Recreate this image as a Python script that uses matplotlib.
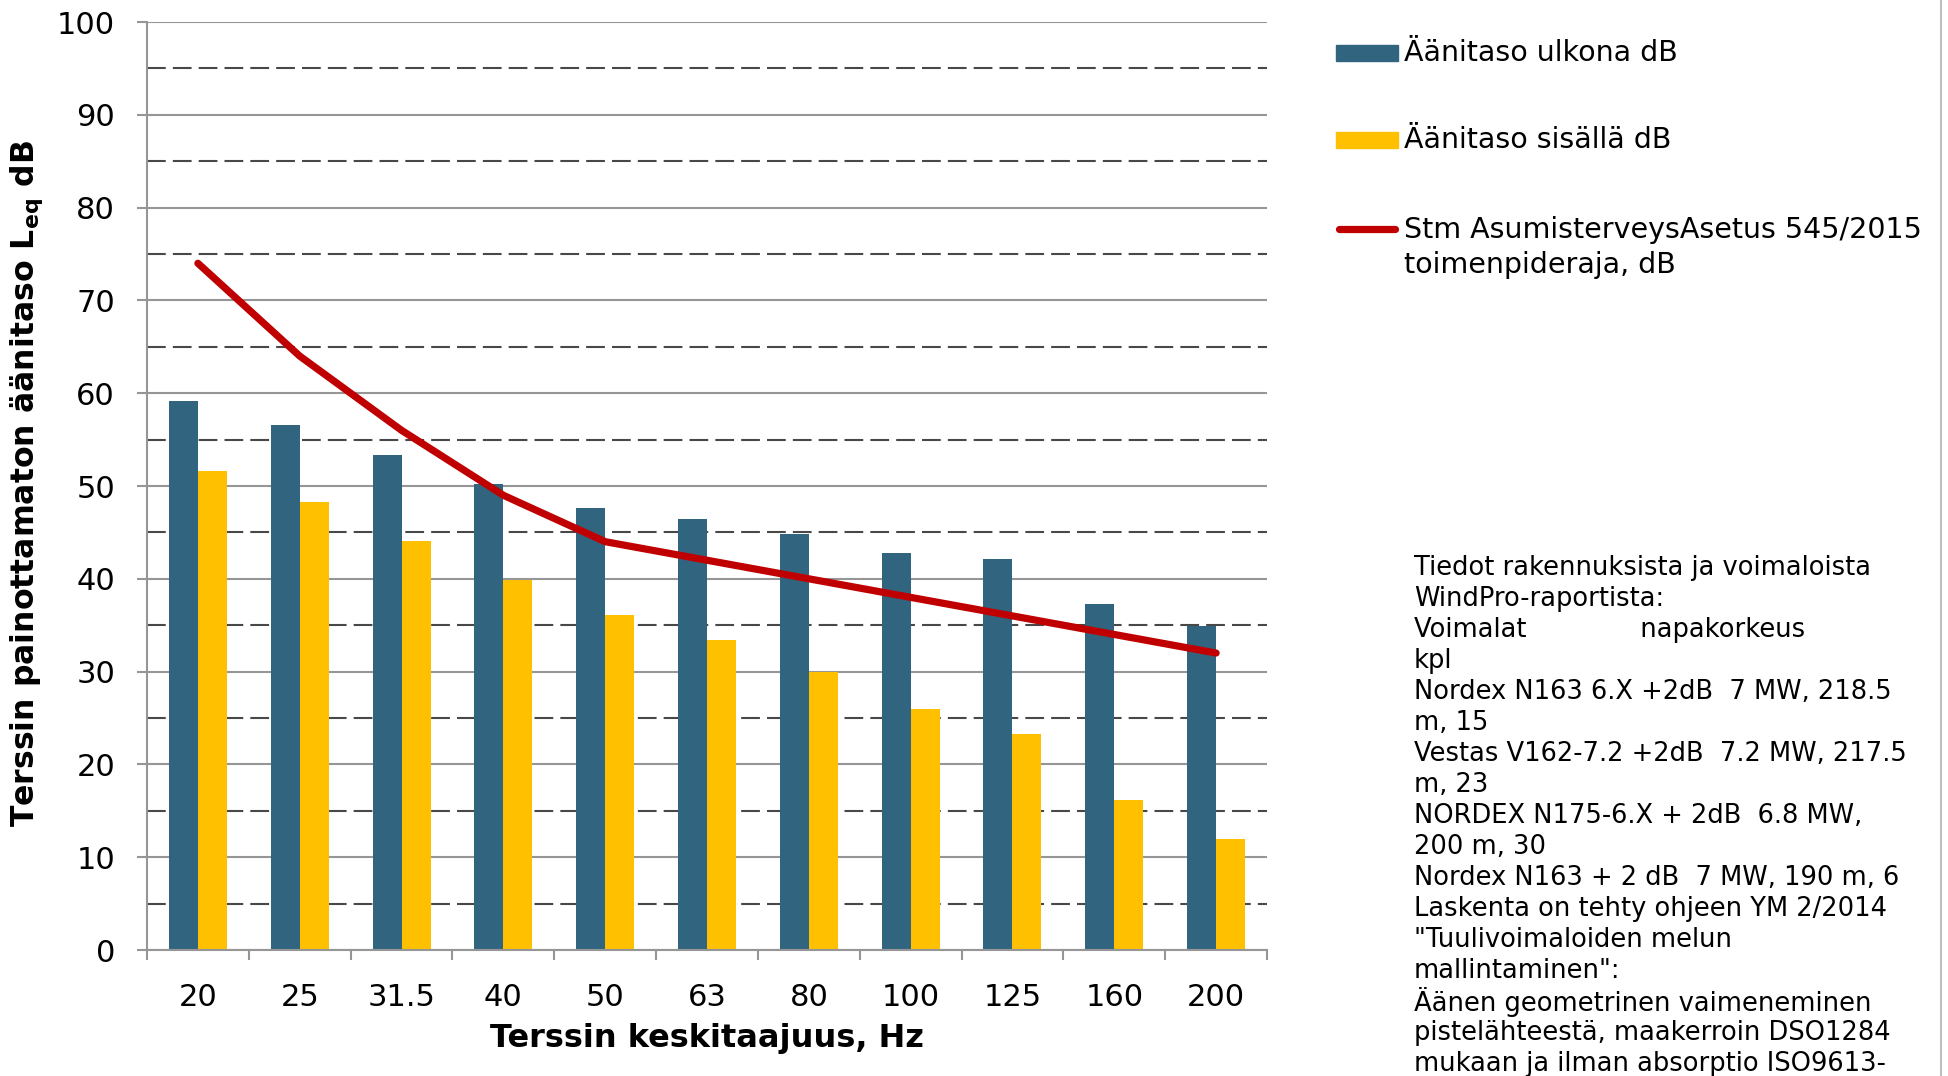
import numpy as np
import matplotlib
matplotlib.use('Agg')
import matplotlib.pyplot as plt
from matplotlib.lines import Line2D
from matplotlib.patches import Rectangle

# data
freqs = ['20', '25', '31.5', '40', '50', '63', '80', '100', '125', '160', '200']
outdoor = [59.2, 56.6, 53.3, 50.2, 47.6, 46.4, 44.8, 42.8, 42.1, 37.3, 34.9]
indoor = [51.6, 48.3, 44.1, 39.9, 36.1, 33.4, 30.0, 26.0, 23.3, 16.2, 12.0]
limit = [74, 64, 56, 49, 44, 42, 40, 38, 36, 34, 32]

labels = ['Äänitaso ulkona dB', 'Äänitaso sisällä dB',
          'Stm AsumisterveysAsetus 545/2015\ntoimenpideraja, dB']
note_lines = [
    'Tiedot rakennuksista ja voimaloista',
    'WindPro-raportista:',
    'Voimalat              napakorkeus',
    'kpl',
    'Nordex N163 6.X +2dB  7 MW, 218.5',
    'm, 15',
    'Vestas V162-7.2 +2dB  7.2 MW, 217.5',
    'm, 23',
    'NORDEX N175-6.X + 2dB  6.8 MW,',
    '200 m, 30',
    'Nordex N163 + 2 dB  7 MW, 190 m, 6',
    'Laskenta on tehty ohjeen YM 2/2014',
    '"Tuulivoimaloiden melun',
    'mallintaminen":',
    'Äänen geometrinen vaimeneminen',
    'pistelähteestä, maakerroin DSO1284',
    'mukaan ja ilman absorptio ISO9613-',
]

BLUE = '#31657f'
YELLOW = '#ffc000'
RED = '#c00000'
GRID = '#969696'

W, H = 1949, 1076
fig = plt.figure(figsize=(W / 100, H / 100), dpi=100)
# axes box in pixels: left 147, right 1267, top 22, bottom 950
ax = fig.add_axes([147 / W, 1 - 950 / H, (1267 - 147) / W, (950 - 22) / H])

x = np.arange(len(freqs))
w = 0.285
ax.bar(x - w / 2, outdoor, w, color=BLUE, zorder=2)
ax.bar(x + w / 2, indoor, w, color=YELLOW, zorder=2)
ax.plot(x, limit, color=RED, lw=5.2, solid_capstyle='round',
        solid_joinstyle='round', zorder=3)

ax.set_xlim(-0.5, len(freqs) - 0.5)
ax.set_ylim(0, 100)
ax.set_axisbelow(True)

ax.set_yticks(range(0, 101, 10))
ax.set_yticks(range(5, 100, 10), minor=True)
ax.yaxis.grid(True, which='major', color=GRID, lw=1.5)
ax.yaxis.grid(True, which='minor', color='#484848', lw=1.5, ls=(0, (9, 3.4)))
ax.tick_params(axis='y', which='minor', length=0)
ax.tick_params(axis='y', which='major', length=7, width=1.5, color=GRID,
               labelsize=22, pad=16)

ax.set_xticks(x)
ax.set_xticklabels(freqs)
ax.set_xticks(np.arange(-0.5, len(freqs), 1), minor=True)
ax.tick_params(axis='x', which='major', length=0, labelsize=22, pad=24)
ax.tick_params(axis='x', which='minor', length=7, width=1.5, color=GRID)

for s in ['top', 'right']:
    ax.spines[s].set_visible(False)
for s in ['left', 'bottom']:
    ax.spines[s].set_color(GRID)
    ax.spines[s].set_linewidth(1.5)

fig.text(27 / W, 1 - 484 / H, r'Terssin painottamaton äänitaso L$_{\mathbf{eq}}$ dB',
         rotation=90, ha='center', va='center', fontsize=22.7, fontweight='bold')
fig.text(707 / W, 1 - 1038 / H, 'Terssin keskitaajuus, Hz',
         ha='center', va='center', fontsize=23, fontweight='bold')

# legend drawn by hand to follow the spacing of the reference
fig.patches.append(Rectangle((1336 / W, 1 - 61 / H), 62 / W, 16 / H,
                             color=BLUE, transform=fig.transFigure))
fig.patches.append(Rectangle((1336 / W, 1 - 148 / H), 62 / W, 16 / H,
                             color=YELLOW, transform=fig.transFigure))
fig.lines.append(Line2D([1339 / W, 1395 / W], [1 - 229 / H] * 2, color=RED, lw=5.2,
                        solid_capstyle='round', transform=fig.transFigure))
fig.text(1404 / W, 1 - 53 / H, labels[0], va='center', fontsize=20.5)
fig.text(1404 / W, 1 - 140 / H, labels[1], va='center', fontsize=20.5)
fig.text(1404 / W, 1 - 216 / H, labels[2], va='top', fontsize=20.5, linespacing=1.33)

# note block, one line every 31 px
for i, line in enumerate(note_lines):
    fig.text(1414 / W, 1 - (568 + 31 * i) / H, line, va='center', fontsize=18.5)

# outer chart border on the right
fig.lines.append(Line2D([1941 / W] * 2, [0, 1], color='#bfbfbf', lw=1.5,
                        transform=fig.transFigure))

fig.savefig('out.png', dpi=100)
